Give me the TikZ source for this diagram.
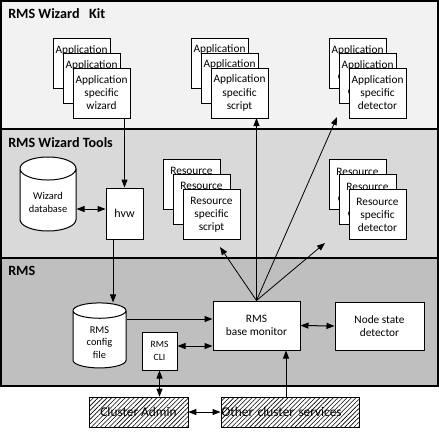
\documentclass[tikz,border=0pt]{standalone}
\usepackage{fontspec}
\setmainfont{Carlito}
\usepackage{xcolor}
\usetikzlibrary{arrows.meta, shapes.geometric, patterns.meta}

\definecolor{kitfill}{HTML}{F2F2F2}
\definecolor{toolfill}{HTML}{D9D9D9}
\definecolor{rmsfill}{HTML}{BFBFBF}

\tikzset{
  band/.style={draw=black, line width=0.9pt},
  bandtitle/.style={anchor=west, inner sep=0pt, font=\fontsize{10.6}{12}\selectfont\bfseries},
  stackbox/.style={draw=black, fill=white, line width=0.75pt, minimum width=42.75pt, minimum height=37.5pt,
    inner sep=0pt, align=center, font=\fontsize{8.5}{9.8}\selectfont},
  plainbox/.style={draw=black, fill=white, line width=0.75pt, inner sep=0pt, align=center,
    font=\fontsize{8.5}{9.8}\selectfont},
  store/.style={cylinder, shape border rotate=90, aspect=0.6, draw=black, fill=white, line width=0.75pt,
    inner sep=0pt, align=center, font=\fontsize{7.8}{9.6}\selectfont},
  hatchbox/.style={draw=black, line width=0.75pt, pattern={Lines[angle=45, distance=2.4pt, line width=0.45pt]},
    minimum height=22.5pt, inner sep=0pt, font=\fontsize{10}{11}\selectfont},
  arr/.style={line width=0.75pt, -{Triangle[length=6pt,width=4.5pt]}},
  darr/.style={line width=0.75pt, {Triangle[length=6pt,width=4.5pt]}-{Triangle[length=6pt,width=4.5pt]}},
  fan/.style={line width=0.6pt, -{Triangle[length=6pt,width=4.5pt]}}
}

\begin{document}
\begin{tikzpicture}[x=0.75pt, y=-0.75pt]
  \useasboundingbox (0,0) rectangle (439,437);

  \draw[band, fill=kitfill] (1,1) rectangle (438,129);
  \draw[band, fill=toolfill] (1,129) rectangle (438,258);
  \draw[band, fill=rmsfill] (1,258) rectangle (438,386);
  \node[bandtitle] (kittitle) at (8,14) {RMS Wizard~~ Kit};
  \node[bandtitle] (tooltitle) at (8,143) {RMS Wizard Tools};
  \node[bandtitle] (rmstitle) at (8,271) {RMS};

  \foreach \n/\d in {1/0, 2/10, 3/20} {
    \node[stackbox] (wiz\n) at (81.5+\d, 63+1.5*\d) {Application\\specific\\wizard};
    \node[stackbox] (ascr\n) at (219.5+\d, 63+1.5*\d) {Application\\specific\\script};
    \node[stackbox] (adet\n) at (357.5+\d, 63+1.5*\d) {Application\\specific\\detector};
    \node[stackbox] (rscr\n) at (191.5+\d, 184.5+1.5*\d) {Resource\\specific\\script};
    \node[stackbox] (rdet\n) at (357.5+\d, 184.5+1.5*\d) {Resource\\specific\\detector};
  }

  \node[store, minimum width=42pt, minimum height=55.5pt] (db) at (48,200) {\\Wizard\\database};
  \node[plainbox, minimum width=27.75pt, minimum height=38.25pt, font=\fontsize{9}{10}\selectfont] (hvw) at (124.5,213.5) {hvw};
  \node[store, minimum width=39.75pt, minimum height=48.75pt] (cfg) at (99.5,339.5) {\\RMS\\config\\file};
  \node[plainbox, minimum width=26.25pt, minimum height=28.5pt, font=\fontsize{7.2}{9.6}\selectfont] (cli) at (159.5,351) {RMS\\CLI};
  \node[plainbox, minimum width=65.25pt, minimum height=36.75pt] (bm) at (256.5,325.5) {RMS\\base monitor};
  \node[plainbox, minimum width=66.75pt, minimum height=36pt] (nsd) at (379.5,326) {Node state\\detector};
  \node[hatchbox, minimum width=74.25pt] (admin) at (138.5,412) {Cluster Admin};
  \node[hatchbox, text width=102.5pt, inner xsep=0.5pt, align=left] (other) at (290,412) {Other cluster services};

  \coordinate (tipadet) at (337,117);
  \coordinate (tiprdet) at (325,243);
  \coordinate (tiprscr) at (220,247);

  \draw[arr] (hvw.north |- wiz3.south) -- (hvw.north);
  \draw[darr] (db.east |- 0,209) -- (hvw.west |- 0,209);
  \draw[arr] ([xshift=-8.6pt]hvw.south) -- ([xshift=-8.6pt]hvw.south |- cfg.north);
  \draw[arr] (cfg.east |- 0,319) -- (bm.west |- 0,319);
  \draw[darr] (cli.east |- 0,346) -- (bm.west |- 0,346);
  \draw[darr] (bm.east) -- (nsd.west);
  \draw[darr] (cli.south) -- (cli.south |- admin.north);
  \draw[darr] (admin.east) -- (other.west);
  \draw[arr] ([xshift=-3pt]other.north) -- ([xshift=-3pt]other.north |- bm.south);

  \draw[fan] (bm.north) -- (bm.north |- 0,118);
  \draw[fan] (bm.north) -- (tipadet);
  \draw[fan] (bm.north) -- (tiprdet);
  \draw[fan] (bm.north) -- (tiprscr);
\end{tikzpicture}
\end{document}
